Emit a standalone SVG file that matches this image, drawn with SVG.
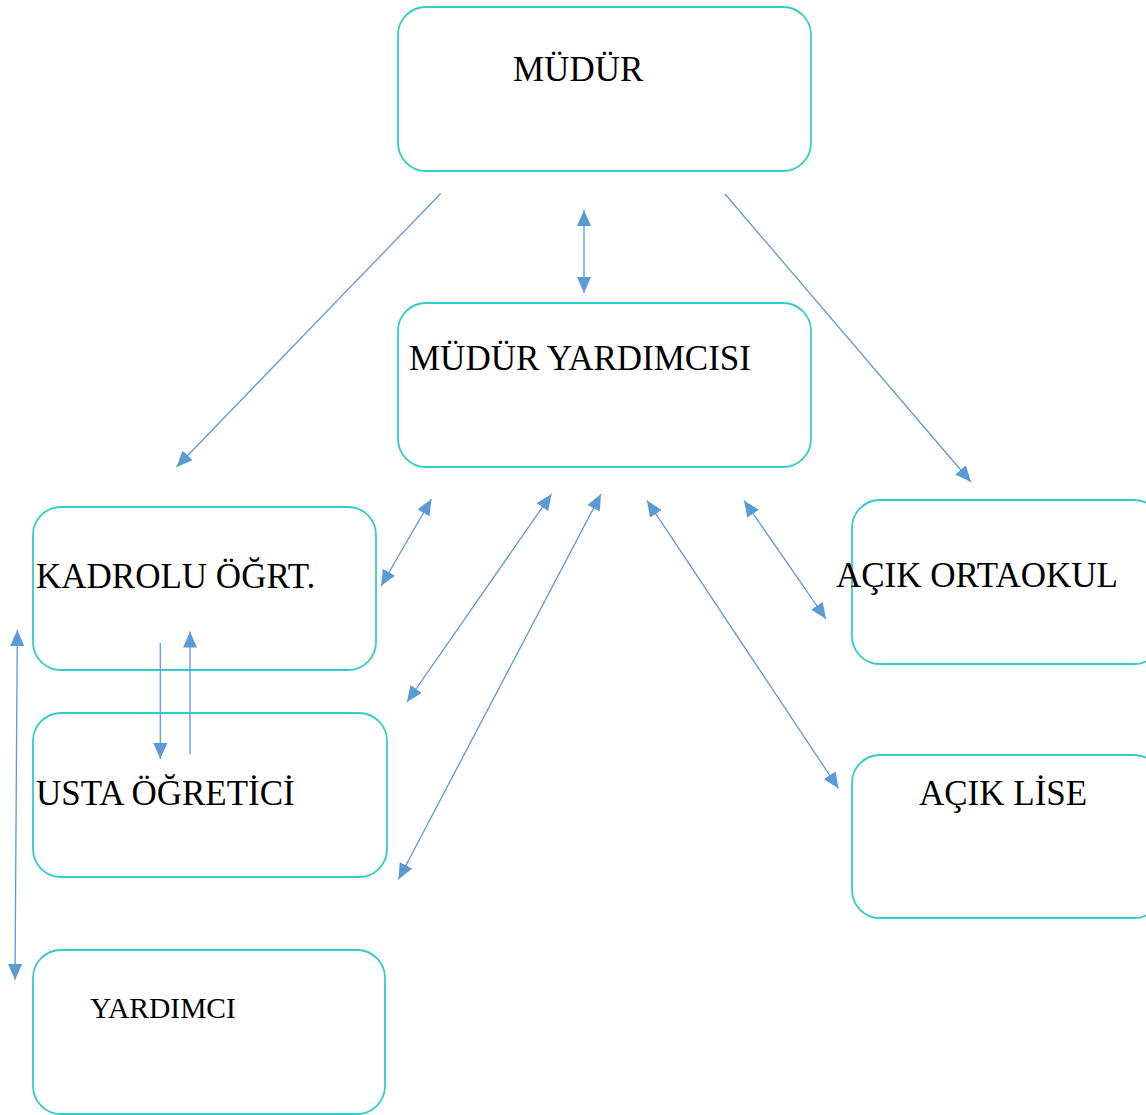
<svg xmlns="http://www.w3.org/2000/svg" width="1146" height="1115" viewBox="0 0 1146 1115">
<style>
.box{fill:#ffffff;stroke:#33cccc;stroke-width:1.8}
.lbl{font-family:"Liberation Serif","Times New Roman",serif;font-size:35px;fill:#000000}
.sm{font-size:29.5px}
.con{stroke:#5b9bd5;stroke-width:1.3;fill:none}
.one{marker-end:url(#ah)}
.two{marker-start:url(#ah);marker-end:url(#ah)}
</style>
<defs>
<marker id="ah" viewBox="0 0 16 14" refX="16" refY="7" markerWidth="16" markerHeight="14" markerUnits="userSpaceOnUse" orient="auto-start-reverse">
<path d="M0,0 L16,7 L0,14 z" fill="#5b9bd5"/>
</marker>
</defs>
<rect width="1146" height="1115" fill="#ffffff"/>
<g id="mudur"><rect class="box" x="398" y="7" width="413" height="164" rx="28"/><text class="lbl" x="513" y="81">MÜDÜR</text></g>
<g id="mudur-yardimcisi"><rect class="box" x="398" y="303" width="413" height="164" rx="28"/><text class="lbl" x="409" y="370">MÜDÜR YARDIMCISI</text></g>
<g id="kadrolu"><rect class="box" x="33" y="507" width="343" height="163" rx="28"/><text class="lbl" x="36" y="588">KADROLU ÖĞRT.</text></g>
<g id="usta"><rect class="box" x="33" y="713" width="354" height="164" rx="28"/><text class="lbl" x="36" y="805">USTA ÖĞRETİCİ</text></g>
<g id="yardimci"><rect class="box" x="33" y="950" width="352" height="164" rx="28"/><text class="lbl sm" x="90" y="1018">YARDIMCI</text></g>
<g id="acik-ortaokul"><rect class="box" x="852" y="500" width="310" height="164" rx="28"/><text class="lbl" x="836" y="587">AÇIK ORTAOKUL</text></g>
<g id="acik-lise"><rect class="box" x="852" y="755" width="310" height="163" rx="28"/><text class="lbl" x="919" y="805">AÇIK LİSE</text></g>
<g id="connectors">
<line class="con one" x1="440.7" y1="193.5" x2="176.5" y2="467"/>
<line class="con one" x1="725" y1="194" x2="971" y2="482"/>
<line class="con two" x1="584" y1="210" x2="584" y2="293"/>
<line class="con two" x1="431.5" y1="499" x2="381" y2="586"/>
<line class="con two" x1="551.5" y1="494" x2="407" y2="702"/>
<line class="con two" x1="601" y1="494" x2="398.5" y2="879.5"/>
<line class="con two" x1="647" y1="500.5" x2="838.5" y2="788.5"/>
<line class="con two" x1="744" y1="500.5" x2="826" y2="619"/>
<line class="con one" x1="160.3" y1="643" x2="160.3" y2="759"/>
<line class="con one" x1="190" y1="754" x2="190" y2="631.5"/>
<line class="con two" x1="17.3" y1="630" x2="15" y2="980"/>
</g>
</svg>
